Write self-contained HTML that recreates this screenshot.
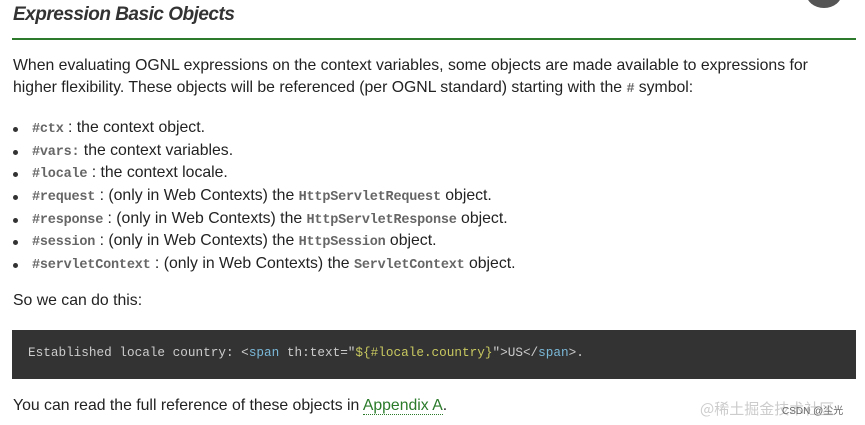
<!DOCTYPE html>
<html><head><meta charset="utf-8"><style>
body{margin:0;width:865px;height:425px;background:#fff;position:relative;overflow:hidden;font-family:"Liberation Sans",sans-serif;color:#222}
.a{position:absolute;white-space:nowrap}
.t{font-size:15.8px;letter-spacing:0}
.c{font-family:"Liberation Mono",monospace;font-size:13.5px;color:#666;font-weight:bold;letter-spacing:-0.2px}
.b{position:absolute;left:13px;width:5px;height:5px;border-radius:50%;background:#333}
</style></head><body>
<div class="a" style="left:806px;top:-22px;width:36px;height:30px;border-radius:50%;background:#555"></div>
<div class="a" style="left:13px;top:4px;font-size:19px;font-weight:bold;font-style:italic;color:#333;letter-spacing:-0.5px">Expression Basic Objects</div>
<div class="a" style="left:12px;top:38px;width:844px;height:2px;background:#2d7a2d"></div>
<div class="a t" style="left:13px;top:57px">When evaluating OGNL expressions on the context variables, some objects are made available to expressions for</div>
<div class="a t" style="left:13px;top:79px">higher flexibility. These objects will be referenced (per OGNL standard) starting with the <span class="c">#</span> symbol:</div>

<div class="b" style="top:127px"></div><div class="a t" style="left:32px;top:119px"><span class="c">#ctx</span> : the context object.</div>
<div class="b" style="top:150px"></div><div class="a t" style="left:32px;top:142px"><span class="c">#vars:</span>  the context variables.</div>
<div class="b" style="top:172px"></div><div class="a t" style="left:32px;top:164px"><span class="c">#locale</span> : the context locale.</div>
<div class="b" style="top:195px"></div><div class="a t" style="left:32px;top:187px"><span class="c">#request</span> : (only in Web Contexts) the <span class="c">HttpServletRequest</span> object.</div>
<div class="b" style="top:218px"></div><div class="a t" style="left:32px;top:210px"><span class="c">#response</span> : (only in Web Contexts) the <span class="c">HttpServletResponse</span> object.</div>
<div class="b" style="top:240px"></div><div class="a t" style="left:32px;top:232px"><span class="c">#session</span> : (only in Web Contexts) the <span class="c">HttpSession</span> object.</div>
<div class="b" style="top:263px"></div><div class="a t" style="left:32px;top:255px"><span class="c">#servletContext</span> : (only in Web Contexts) the <span class="c">ServletContext</span> object.</div>

<div class="a t" style="left:13px;top:292px">So we can do this:</div>
<div class="a" style="left:12px;top:330px;width:844px;height:49px;background:#333"></div>
<div class="a" style="left:28px;top:345px;font-family:'Liberation Mono',monospace;font-size:12.7px;color:#ccc;letter-spacing:0">Established locale country: &lt;<span style="color:#7ab8d8">span</span> th:text="<span style="color:#c8c860">${#locale.country}</span>"&gt;US&lt;/<span style="color:#7ab8d8">span</span>&gt;.</div>
<div class="a t" style="left:13px;top:397px">You can read the full reference of these objects in  <span style="color:#2a7a2a;border-bottom:1px dotted #2a7a2a">Appendix A</span>.</div>
<div class="a" style="left:700px;top:398px;font-family:'Noto Sans CJK SC',sans-serif;font-size:15px;color:#ccc">@稀土掘金技术社区</div>
<div class="a" style="left:782px;top:402px;font-size:10px;color:#666">CSDN @尘光</div>
</body></html>
